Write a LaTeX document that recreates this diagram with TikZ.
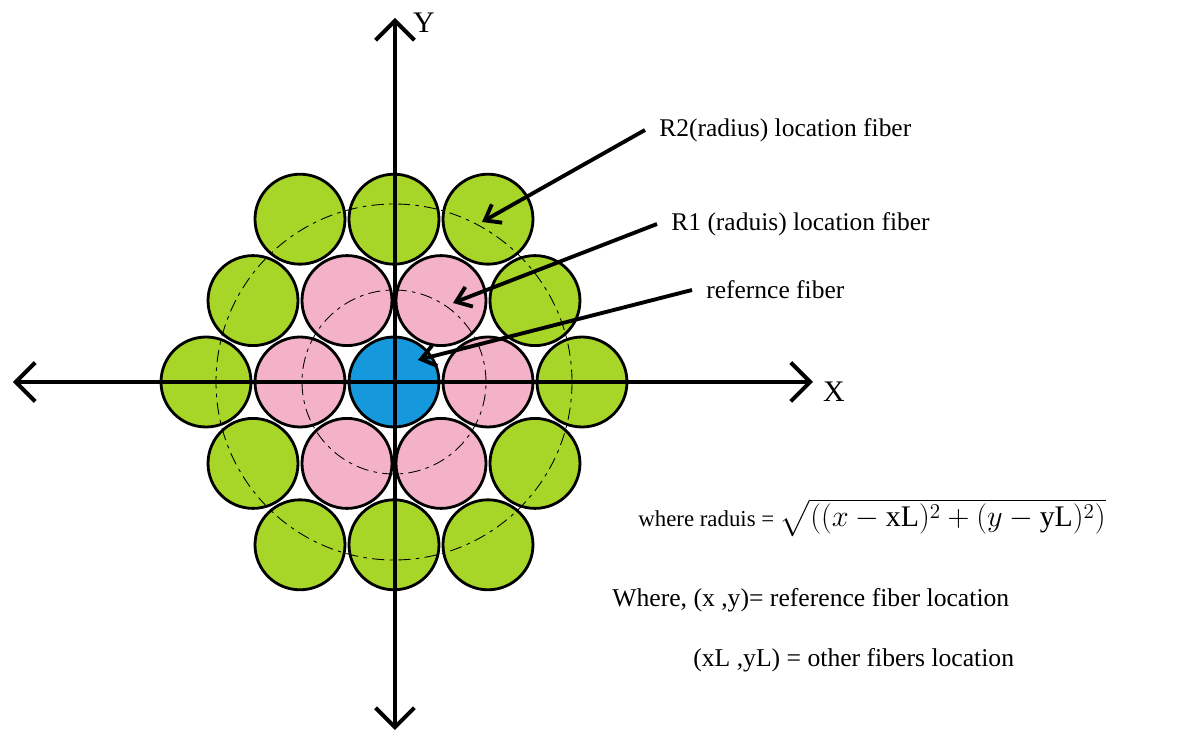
\documentclass[tikz,border=0pt]{standalone}
\usepackage{fontspec}
\setmainfont{Liberation Serif}
\usepackage{amsmath}
\usetikzlibrary{arrows.meta}
\definecolor{fibergreen}{RGB}{168,214,40}
\definecolor{fiberpink}{RGB}{244,178,200}
\definecolor{fiberblue}{RGB}{22,152,220}

\begin{document}
\begin{tikzpicture}[x=0.02cm, y=0.02cm,
    fiber/.style={circle, draw=black, line width=1.6pt, minimum size=1.8cm, inner sep=0pt, outer sep=0pt},
    ring/.style={black, line width=0.5pt, dash pattern=on 7pt off 3pt on 2pt off 3pt},
    axis/.style={line width=2.3pt, -{Straight Barb[length=11pt,width=22pt]}},
    pointer/.style={line width=2.2pt, -{Straight Barb[length=8pt,width=12pt]}},
    lbl/.style={anchor=west, inner xsep=8pt, font=\fontsize{14.5}{17}\selectfont}]
    \useasboundingbox (-394,-351) rectangle (803,382);
    % Fibers: reference, first ring (R1), second ring (R2)
    \node[fiber, fill=fiberblue] (ref) at (0,0) {};
    \foreach \a in {0,60,...,300}
        \node[fiber, fill=fiberpink] (rA-\a) at (\a:94) {};
    \foreach \a in {0,60,...,300}
        \node[fiber, fill=fibergreen] (rB-\a) at (\a:188) {};
    \foreach \a in {30,90,...,330}
        \node[fiber, fill=fibergreen] (rC-\a) at (\a:162.8) {};
    % Dashed radius circles
    \draw[ring] (ref.center) circle (92);
    \draw[ring] (ref.center) circle (178);
    % Axes
    \coordinate (xl) at (-381,0);
    \coordinate (xr) at (419,0);
    \coordinate (yt) at (1,364);
    \coordinate (yb) at (1,-348);
    \coordinate (o) at (1,0);
    \draw[axis] (o) -- (xr);
    \draw[axis] (o) -- (xl);
    \draw[axis] (o) -- (yt);
    \draw[axis] (o) -- (yb);
    \node[font=\fontsize{17}{20}\selectfont] (xlab) at (440,-10) {X};
    \node[font=\fontsize{17}{20}\selectfont] (ylab) at (30,359) {Y};
    % Labels and pointers
    \node[lbl] (lblB) at (251,252) {R2(radius) location fiber};
    \node[lbl] (lblA) at (263,158) {R1 (raduis) location fiber};
    \node[lbl] (lblR) at (298,92) {refernce fiber};
    \coordinate (tipB) at (88,160);
    \coordinate (tipA) at (59,79);
    \coordinate (tipR) at (24,22);
    \draw[pointer] (lblB.west) -- (tipB);
    \draw[pointer] (lblA.west) -- (tipA);
    \draw[pointer] (lblR.west) -- (tipR);
    % Formula
    \node[anchor=base west, inner sep=0pt, font=\fontsize{13}{15}\selectfont] (eq) at (244,-145)
        {where raduis = {\fontsize{17}{20}\selectfont$\sqrt{((x-\mathrm{xL})^2+(y-\mathrm{yL})^2)}$}};
    \node[anchor=base west, inner sep=0pt, font=\fontsize{14.6}{17}\selectfont] (wh) at (218,-225)
        {Where, (x ,y)= reference fiber location};
    \node[anchor=base west, inner sep=0pt, font=\fontsize{14.6}{17}\selectfont] (wl) at (299,-285)
        {(xL ,yL) = other fibers location};
\end{tikzpicture}
\end{document}
